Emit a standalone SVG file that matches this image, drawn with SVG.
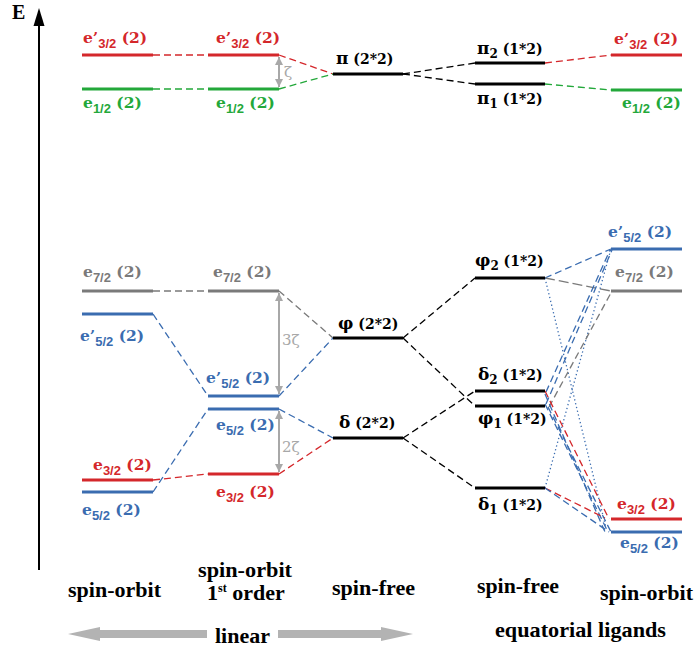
<svg xmlns="http://www.w3.org/2000/svg" width="694" height="649" viewBox="0 0 694 649">
<style>
.lv{stroke-width:3;fill:none}
.red{stroke:#d4272b}.grn{stroke:#23a83a}.blu{stroke:#3a6cb0}.gry{stroke:#7a7a7a}.blk{stroke:#000}
.tr{fill:#d4272b}.tg{fill:#23a83a}.tb{fill:#3a6cb0}.ty{fill:#7a7a7a}.tk{fill:#000}
.lab{font-family:"DejaVu Serif","Liberation Serif",serif;font-weight:bold;font-size:15.5px}
.glab{font-family:"DejaVu Serif","Liberation Serif",serif;font-weight:bold;font-size:14px}
.gr{font-size:17px}
.sub{font-family:"Liberation Sans",Arial,sans-serif;font-weight:bold;font-size:13px}
.gsub{font-family:"DejaVu Serif","Liberation Serif",serif;font-weight:bold;font-size:12px}
.dash{fill:none;stroke-width:1.3;stroke-dasharray:7 4}
.dot{fill:none;stroke-width:1.3;stroke-dasharray:1.3 2.6}
.ax{font-family:"Liberation Serif","Times New Roman",serif;font-weight:bold;font-size:22px;fill:#000}
.zt{font-family:"DejaVu Serif","Liberation Serif",serif;font-size:15px;fill:#a8a8a8}
</style>
<defs>
<marker id="ah" viewBox="0 0 10 10" refX="10" refY="5" markerWidth="4" markerHeight="4.5" orient="auto-start-reverse" markerUnits="strokeWidth">
<path d="M0,0 L10,5 L0,10 Z" fill="#a8a8a8"/>
</marker>
</defs>

<g id="axis">
<line x1="39" y1="570" x2="39" y2="22" stroke="#000" stroke-width="2"/>
<polygon points="39,8 33.5,26 44.5,26" fill="#000"/>
<text x="12" y="19" style="font-family:'Liberation Serif',serif;font-weight:bold;font-size:20px">E</text>
</g>

<g id="connectors">
<line class="dash red" x1="153" y1="55" x2="208" y2="55"/>
<line class="dash grn" x1="153" y1="89" x2="208" y2="89"/>
<line class="dash red" x1="279" y1="55" x2="333" y2="74"/>
<line class="dash grn" x1="279" y1="89" x2="333" y2="74"/>
<line class="dash blk" x1="403" y1="74" x2="475" y2="63"/>
<line class="dash blk" x1="403" y1="74" x2="475" y2="84"/>
<line class="dash red" x1="545" y1="63" x2="611" y2="55"/>
<line class="dash grn" x1="545" y1="84" x2="611" y2="90"/>
<line class="dash gry" x1="153" y1="291" x2="208" y2="291"/>
<line class="dash blu" x1="153" y1="314" x2="208" y2="396"/>
<line class="dash blu" x1="153" y1="492" x2="208" y2="409"/>
<line class="dash red" x1="153" y1="480" x2="208" y2="474"/>
<line class="dash gry" x1="279" y1="291" x2="333" y2="338"/>
<line class="dash blu" x1="279" y1="396" x2="333" y2="338"/>
<line class="dash blu" x1="279" y1="409" x2="333" y2="438"/>
<line class="dash red" x1="279" y1="474" x2="333" y2="438"/>
<line class="dash blk" x1="403" y1="338" x2="475" y2="278"/>
<line class="dash blk" x1="403" y1="338" x2="475" y2="406"/>
<line class="dash blk" x1="403" y1="438" x2="475" y2="391"/>
<line class="dash blk" x1="403" y1="438" x2="475" y2="488"/>
<line class="dash blu" x1="545" y1="278" x2="611" y2="249"/>
<line class="dash gry" x1="545" y1="278" x2="611" y2="291" style="stroke-dasharray:10 4"/>
<line class="dot blu" x1="545" y1="278" x2="606" y2="528"/>
<line class="dot blu" x1="545" y1="488" x2="611" y2="249"/>
<line class="dash blu" x1="546" y1="392" x2="610" y2="250"/>
<line class="dash blu" x1="546" y1="404" x2="612" y2="250"/>
<line class="dash gry" x1="549" y1="407" x2="612" y2="291"/>
<line class="dash red" x1="545" y1="391" x2="609" y2="519"/>
<line class="dash blu" x1="545" y1="394" x2="605" y2="532"/>
<line class="dash blu" x1="545" y1="404" x2="608" y2="532"/>
<line class="dash blu" x1="548" y1="407" x2="611" y2="532"/>
<line class="dash red" x1="545" y1="488" x2="605" y2="518"/>
<line class="dash blu" x1="545" y1="488" x2="609" y2="532"/>
<line x1="279" y1="57" x2="279" y2="87" stroke="#a8a8a8" stroke-width="2" marker-start="url(#ah)" marker-end="url(#ah)"/>
<line x1="279" y1="293" x2="279" y2="394" stroke="#a8a8a8" stroke-width="2" marker-start="url(#ah)" marker-end="url(#ah)"/>
<line x1="279" y1="411" x2="279" y2="472" stroke="#a8a8a8" stroke-width="2" marker-start="url(#ah)" marker-end="url(#ah)"/>
<text class="zt" x="284" y="77">ζ</text>
<text class="zt" x="282" y="345">3ζ</text>
<text class="zt" x="282" y="452">2ζ</text>
</g>

<g id="c1_e3_2p"><line class="lv red" x1="82" y1="55" x2="153" y2="55"/><text class="lab tr" x="83" y="43">e’<tspan class="sub" dy="5">3/2</tspan><tspan dy="-5"> (2)</tspan></text></g>
<g id="c1_e1_2"><line class="lv grn" x1="82" y1="89" x2="153" y2="89"/><text class="lab tg" x="83" y="108">e<tspan class="sub" dy="5">1/2</tspan><tspan dy="-5"> (2)</tspan></text></g>
<g id="c1_e7_2"><line class="lv gry" x1="82" y1="291" x2="153" y2="291"/><text class="lab ty" x="83" y="277">e<tspan class="sub" dy="5">7/2</tspan><tspan dy="-5"> (2)</tspan></text></g>
<g id="c1_e5_2p"><line class="lv blu" x1="82" y1="314" x2="153" y2="314"/><text class="lab tb" x="80" y="341">e’<tspan class="sub" dy="5">5/2</tspan><tspan dy="-5"> (2)</tspan></text></g>
<g id="c1_e3_2"><line class="lv red" x1="82" y1="480" x2="153" y2="480"/><text class="lab tr" x="93" y="470">e<tspan class="sub" dy="5">3/2</tspan><tspan dy="-5"> (2)</tspan></text></g>
<g id="c1_e5_2"><line class="lv blu" x1="82" y1="492" x2="153" y2="492"/><text class="lab tb" x="82" y="515">e<tspan class="sub" dy="5">5/2</tspan><tspan dy="-5"> (2)</tspan></text></g>

<g id="c2_e3_2p"><line class="lv red" x1="208" y1="55" x2="279" y2="55"/><text class="lab tr" x="216" y="43">e’<tspan class="sub" dy="5">3/2</tspan><tspan dy="-5"> (2)</tspan></text></g>
<g id="c2_e1_2"><line class="lv grn" x1="208" y1="89" x2="279" y2="89"/><text class="lab tg" x="216" y="108">e<tspan class="sub" dy="5">1/2</tspan><tspan dy="-5"> (2)</tspan></text></g>
<g id="c2_e7_2"><line class="lv gry" x1="208" y1="291" x2="279" y2="291"/><text class="lab ty" x="213" y="277">e<tspan class="sub" dy="5">7/2</tspan><tspan dy="-5"> (2)</tspan></text></g>
<g id="c2_e5_2p"><line class="lv blu" x1="208" y1="396" x2="279" y2="396"/><text class="lab tb" x="206" y="383">e’<tspan class="sub" dy="5">5/2</tspan><tspan dy="-5"> (2)</tspan></text></g>
<g id="c2_e5_2"><line class="lv blu" x1="208" y1="409" x2="279" y2="409"/><text class="lab tb" x="216" y="430">e<tspan class="sub" dy="5">5/2</tspan><tspan dy="-5"> (2)</tspan></text></g>
<g id="c2_e3_2"><line class="lv red" x1="208" y1="474" x2="279" y2="474"/><text class="lab tr" x="216" y="497">e<tspan class="sub" dy="5">3/2</tspan><tspan dy="-5"> (2)</tspan></text></g>

<g id="c3_pi"><line class="lv blk" x1="333" y1="74" x2="403" y2="74"/><text class="glab tk" x="336" y="64"><tspan class="gr">π</tspan> (2*2)</text></g>
<g id="c3_phi"><line class="lv blk" x1="333" y1="338" x2="403" y2="338"/><text class="glab tk" x="338" y="329"><tspan class="gr">φ</tspan> (2*2)</text></g>
<g id="c3_delta"><line class="lv blk" x1="333" y1="438" x2="403" y2="438"/><text class="glab tk" x="339" y="428"><tspan class="gr">δ</tspan> (2*2)</text></g>

<g id="c4_pi2"><line class="lv blk" x1="475" y1="63" x2="545" y2="63"/><text class="glab tk" x="477" y="54"><tspan class="gr">π</tspan><tspan class="gsub" dy="4">2</tspan><tspan dy="-4"> (1*2)</tspan></text></g>
<g id="c4_pi1"><line class="lv blk" x1="475" y1="84" x2="545" y2="84"/><text class="glab tk" x="477" y="104"><tspan class="gr">π</tspan><tspan class="gsub" dy="4">1</tspan><tspan dy="-4"> (1*2)</tspan></text></g>
<g id="c4_phi2"><line class="lv blk" x1="475" y1="278" x2="545" y2="278"/><text class="glab tk" x="475" y="266"><tspan class="gr">φ</tspan><tspan class="gsub" dy="4">2</tspan><tspan dy="-4"> (1*2)</tspan></text></g>
<g id="c4_delta2"><line class="lv blk" x1="475" y1="391" x2="545" y2="391"/><text class="glab tk" x="478" y="380"><tspan class="gr">δ</tspan><tspan class="gsub" dy="4">2</tspan><tspan dy="-4"> (1*2)</tspan></text></g>
<g id="c4_phi1"><line class="lv blk" x1="475" y1="406" x2="545" y2="406"/><text class="glab tk" x="478" y="424"><tspan class="gr">φ</tspan><tspan class="gsub" dy="4">1</tspan><tspan dy="-4"> (1*2)</tspan></text></g>
<g id="c4_delta1"><line class="lv blk" x1="475" y1="488" x2="545" y2="488"/><text class="glab tk" x="478" y="510"><tspan class="gr">δ</tspan><tspan class="gsub" dy="4">1</tspan><tspan dy="-4"> (1*2)</tspan></text></g>

<g id="c5_e3_2p"><line class="lv red" x1="611" y1="55" x2="682" y2="55"/><text class="lab tr" x="614" y="44">e’<tspan class="sub" dy="5">3/2</tspan><tspan dy="-5"> (2)</tspan></text></g>
<g id="c5_e1_2"><line class="lv grn" x1="611" y1="90" x2="682" y2="90"/><text class="lab tg" x="622" y="108">e<tspan class="sub" dy="5">1/2</tspan><tspan dy="-5"> (2)</tspan></text></g>
<g id="c5_e5_2p"><line class="lv blu" x1="611" y1="249" x2="682" y2="249"/><text class="lab tb" x="608" y="237">e’<tspan class="sub" dy="5">5/2</tspan><tspan dy="-5"> (2)</tspan></text></g>
<g id="c5_e7_2"><line class="lv gry" x1="611" y1="291" x2="682" y2="291"/><text class="lab ty" x="615" y="277">e<tspan class="sub" dy="5">7/2</tspan><tspan dy="-5"> (2)</tspan></text></g>
<g id="c5_e3_2"><line class="lv red" x1="611" y1="519" x2="682" y2="519"/><text class="lab tr" x="617" y="509">e<tspan class="sub" dy="5">3/2</tspan><tspan dy="-5"> (2)</tspan></text></g>
<g id="c5_e5_2"><line class="lv blu" x1="611" y1="532" x2="682" y2="532"/><text class="lab tb" x="620" y="548">e<tspan class="sub" dy="5">5/2</tspan><tspan dy="-5"> (2)</tspan></text></g>

<g id="captions">
<text class="ax" x="68" y="597" textLength="93" lengthAdjust="spacingAndGlyphs">spin-orbit</text>
<text class="ax" x="198" y="577" textLength="94" lengthAdjust="spacingAndGlyphs">spin-orbit</text>
<text class="ax" x="207" y="600">1<tspan font-size="12" dy="-8">st</tspan><tspan dy="8"> order</tspan></text>
<text class="ax" x="332" y="595" textLength="83" lengthAdjust="spacingAndGlyphs">spin-free</text>
<text class="ax" x="477" y="593" textLength="82" lengthAdjust="spacingAndGlyphs">spin-free</text>
<text class="ax" x="600" y="600" textLength="93" lengthAdjust="spacingAndGlyphs">spin-orbit</text>
<text class="ax" x="215" y="643" textLength="55" lengthAdjust="spacingAndGlyphs">linear</text>
<text class="ax" x="495" y="637" textLength="171" lengthAdjust="spacingAndGlyphs">equatorial ligands</text>
<polygon points="68,634 100,627 100,630 207,630 207,638 100,638 100,641" fill="#b3b3b3"/>
<polygon points="413,634 381,627 381,630 278,630 278,638 381,638 381,641" fill="#b3b3b3"/>
</g>
</svg>
